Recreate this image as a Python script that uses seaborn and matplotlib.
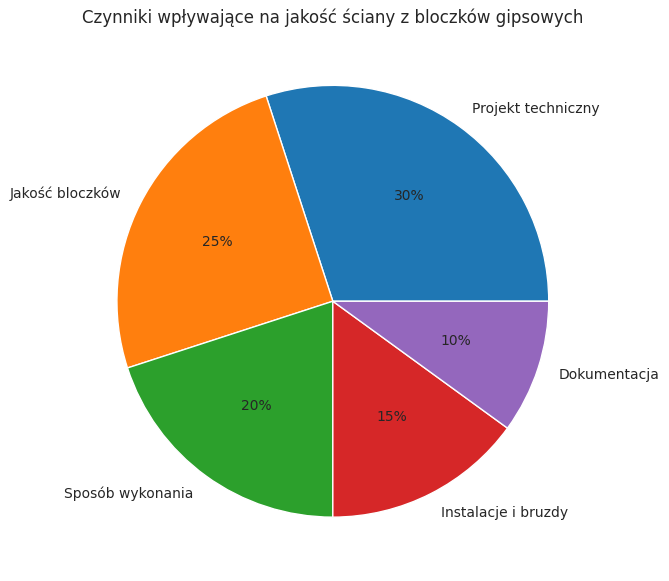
import matplotlib
matplotlib.use("Agg")
import matplotlib.pyplot as plt
import seaborn as sns

labels = ["Projekt techniczny", "Jakość bloczków", "Sposób wykonania", "Instalacje i bruzdy", "Dokumentacja"]
values = [30, 25, 20, 15, 10]

sns.set_style("white")
plt.rcParams['font.family'] = ['DejaVu Sans']
colors = sns.color_palette("tab10", len(values))

fig = plt.figure(figsize=(6.69, 5.81), dpi=100)
ax = fig.add_axes([0.094, 0.017, 0.807, 0.929])
ax.pie(values, labels=labels, colors=colors, autopct="%1.0f%%")
ax.set_title("Czynniki wpływające na jakość ściany z bloczków gipsowych", fontsize=12)
fig.savefig("out.png", dpi=100)
